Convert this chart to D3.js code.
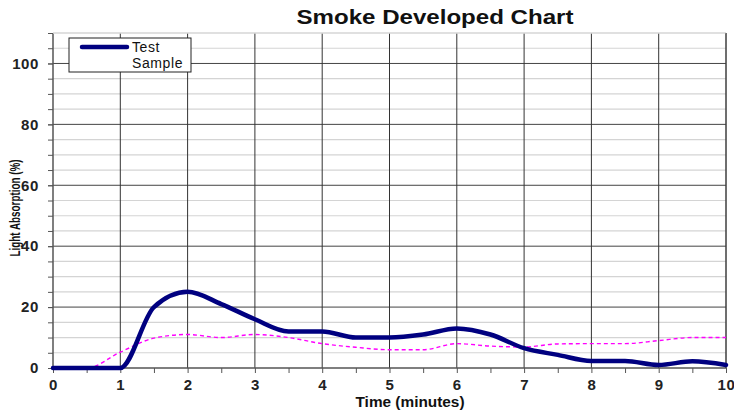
<!DOCTYPE html>
<html>
<head>
  <meta charset="utf-8">
  <title>Smoke Developed Chart</title>
  <script src="https://d3js.org/d3.v7.min.js"></script>
  <style>
body { margin: 0; background: #fff; }
text { font-family: "Liberation Sans", Arial, sans-serif; }
.tick text { font-weight: bold; font-size: 15px; fill: #222; letter-spacing: 0.6px; }
  </style>
</head>
<body>
<div id="chart"></div>
<script>
// time in minutes, readings every half minute
var times = [0, 0.5, 1, 1.5, 2, 2.5, 3, 3.5, 4, 4.5, 5, 5.5, 6, 6.5, 7, 7.5, 8, 8.5, 9, 9.5, 10];
var testSample = [0, 0, 0, 20, 25, 21, 16, 12, 12, 10, 10, 11, 13, 11, 6.5, 4.3, 2.3, 2.3, 1, 2.2, 1];
var reference  = [0, 0, 5.2, 9.8, 11, 10, 11, 10, 8, 6.8, 6, 6, 8, 7.2, 6.9, 7.9, 8, 8, 9, 10, 10];
var xTicks = [0, 1, 2, 3, 4, 5, 6, 7, 8, 9, 10];
var yTicks = [0, 20, 40, 60, 80, 100];

var w = 734, h = 415;
var pLeft = 53, pRight = 726, pTop = 33, pBottom = 368;

var svg = d3.select("#chart").append("svg")
  .attr("width", w)
  .attr("height", h);

var x = d3.scaleLinear().domain([0, 10]).range([pLeft, pRight]);
var y = d3.scaleLinear().domain([0, 110]).range([pBottom, pTop]);

// minor horizontal grid every 5
svg.append("g").selectAll("line").data(d3.range(5, 111, 5).filter(d => d % 20 != 0))
  .enter().append("line")
    .attr("x1", pLeft).attr("x2", pRight)
    .attr("y1", d => y(d)).attr("y2", d => y(d))
    .attr("stroke", "#d4d4d4").attr("stroke-width", 1.2);

// major horizontal grid
svg.append("g").selectAll("line").data(yTicks.filter(d => d > 0))
  .enter().append("line")
    .attr("x1", pLeft).attr("x2", pRight)
    .attr("y1", d => y(d)).attr("y2", d => y(d))
    .attr("stroke", "#444").attr("stroke-width", 1);

// vertical grid
svg.append("g").selectAll("line").data(xTicks.filter(d => d > 0))
  .enter().append("line")
    .attr("x1", d => x(d)).attr("x2", d => x(d))
    .attr("y1", pTop).attr("y2", pBottom)
    .attr("stroke", "#333").attr("stroke-width", 1);

// axes
var xAxis = d3.axisBottom(x).tickValues(xTicks).tickSize(5).tickPadding(6).tickFormat(d3.format("d"));
var gx = svg.append("g").attr("transform", "translate(0," + pBottom + ")").call(xAxis);
svg.append("g").attr("transform", "translate(0," + pBottom + ")")
  .call(d3.axisBottom(x).tickValues(d3.range(0.5, 10, 1)).tickSize(5).tickFormat(""))
  .select(".domain").remove();

var yAxis = d3.axisLeft(y).tickValues(yTicks).tickSize(5).tickPadding(9);
var gy = svg.append("g").attr("transform", "translate(" + pLeft + ",0)").call(yAxis);
svg.append("g").attr("transform", "translate(" + pLeft + ",0)")
  .call(d3.axisLeft(y).tickValues(d3.range(5, 111, 5)).tickSize(5).tickFormat(""))
  .select(".domain").remove();

svg.selectAll(".domain").attr("stroke", "#555").attr("stroke-width", 1.5);
svg.selectAll(".tick line").attr("stroke", "#555");
gx.select(".domain").attr("d", "M" + pLeft + ",0H" + pRight);
gy.select(".domain").attr("d", "M0," + pBottom + "V" + pTop);

// top edge and right edge
svg.append("line").attr("x1", pLeft).attr("x2", pRight).attr("y1", pTop).attr("y2", pTop)
  .attr("stroke", "#ddd").attr("stroke-width", 1.5);
svg.append("line").attr("x1", pRight).attr("x2", pRight).attr("y1", pTop).attr("y2", pBottom)
  .attr("stroke", "#444").attr("stroke-width", 1);

// lines
var line = d3.line().curve(d3.curveMonotoneX);
svg.append("path")
  .attr("d", line(times.map((t, i) => [x(t), y(reference[i])])))
  .attr("fill", "none").attr("stroke", "#ff00ff")
  .attr("stroke-width", 1.4).attr("stroke-dasharray", "4,3");
svg.append("path")
  .attr("d", line(times.map((t, i) => [x(t), y(testSample[i])])))
  .attr("fill", "none").attr("stroke", "#000080")
  .attr("stroke-width", 4.5).attr("stroke-linejoin", "round").attr("stroke-linecap", "round");

// legend
var lg = svg.append("g");
lg.append("rect").attr("x", 69).attr("y", 38).attr("width", 122).attr("height", 34)
  .attr("fill", "#fff").attr("stroke", "#222").attr("stroke-width", 1);
lg.append("line").attr("x1", 82).attr("x2", 127).attr("y1", 47).attr("y2", 47)
  .attr("stroke", "#000080").attr("stroke-width", 4.5).attr("stroke-linecap", "round");
lg.append("text").attr("x", 132).attr("y", 52).attr("font-size", 14).attr("letter-spacing", 0.6)
  .attr("fill", "#111").text("Test");
lg.append("text").attr("x", 132).attr("y", 68).attr("font-size", 14).attr("letter-spacing", 0.6)
  .attr("fill", "#111").text("Sample");

// titles
svg.append("text").attr("x", 435).attr("y", 24).attr("text-anchor", "middle")
  .attr("font-size", 20).attr("font-weight", "bold").attr("fill", "#111")
  .attr("textLength", 277).attr("lengthAdjust", "spacingAndGlyphs")
  .text("Smoke Developed Chart");
svg.append("text").attr("x", 410).attr("y", 407).attr("text-anchor", "middle")
  .attr("font-size", 14).attr("font-weight", "bold").attr("fill", "#111")
  .attr("textLength", 109).attr("lengthAdjust", "spacingAndGlyphs")
  .text("Time (minutes)");
svg.append("text").attr("transform", "translate(20,208) rotate(-90)").attr("text-anchor", "middle")
  .attr("font-size", 15).attr("font-weight", "bold").attr("fill", "#111")
  .attr("textLength", 97).attr("lengthAdjust", "spacingAndGlyphs")
  .text("Light Absorption (%)");
</script>
</body>
</html>
